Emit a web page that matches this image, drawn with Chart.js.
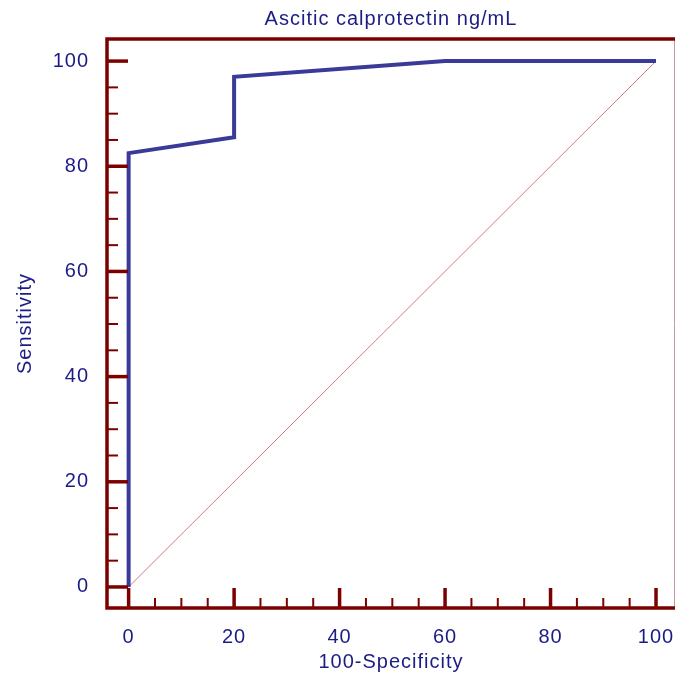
<!DOCTYPE html>
<html>
<head>
<meta charset="utf-8">
<script src="https://cdn.jsdelivr.net/npm/chart.js@4.4.1/dist/chart.umd.min.js"></script>
<style>
  html, body { margin: 0; padding: 0; background: #fff; }
  #wrap { width: 676px; height: 677px; }
</style>
</head>
<body>
<div id="wrap"><canvas id="rocChart" width="676" height="677"></canvas></div>
<script>
// ROC curve points (100-Specificity, Sensitivity)
const fpr = [0, 0, 20, 20, 60, 100];
const tpr = [0, 82.5, 85.5, 97, 100, 100];
// reference diagonal
const refX = [0, 100];
const refY = [0, 100];
const tickValues = [0, 20, 40, 60, 80, 100];

const maroon = '#7d0000';
const navy = '#1c1c86';

// frame + inward tick marks, drawn from the scales
const framePlugin = {
    id: 'frame',
    afterDatasetsDraw(chart) {
        const ctx = chart.ctx;
        const a = chart.chartArea;
        const xs = chart.scales.x, ys = chart.scales.y;
        ctx.save();
        ctx.strokeStyle = maroon;
        ctx.lineCap = 'butt';
        for (let v = 0; v <= 100; v += 5) {
            const major = v % 20 === 0;
            ctx.lineWidth = major ? 3.5 : 2;
            const py = ys.getPixelForValue(v);
            ctx.beginPath();
            ctx.moveTo(a.left, py);
            ctx.lineTo(a.left + (major ? 21 : 11), py);
            ctx.stroke();
            const px = xs.getPixelForValue(v);
            ctx.beginPath();
            ctx.moveTo(px, a.bottom);
            ctx.lineTo(px, a.bottom - (major ? 20 : 10));
            ctx.stroke();
        }
        // right edge, thin
        ctx.strokeStyle = '#c49a9a';
        ctx.lineWidth = 1;
        ctx.beginPath();
        ctx.moveTo(a.right - 0.5, a.top);
        ctx.lineTo(a.right - 0.5, a.bottom);
        ctx.stroke();
        // left, top, bottom thick
        ctx.strokeStyle = maroon;
        ctx.lineWidth = 3.5;
        ctx.beginPath();
        ctx.moveTo(a.right, a.top);
        ctx.lineTo(a.left, a.top);
        ctx.lineTo(a.left, a.bottom);
        ctx.lineTo(a.right, a.bottom);
        ctx.stroke();
        ctx.restore();
    }
};

const spacingPlugin = {
    id: 'spacing',
    beforeDraw(chart) { chart.ctx.letterSpacing = '1px'; }
};

const ctx = document.getElementById('rocChart').getContext('2d');
const rocChart = new Chart(ctx, {
    type: 'line',
    data: {
        datasets: [{
            label: 'ROC',
            data: fpr.map((x, i) => ({ x: x, y: tpr[i] })),
            borderColor: '#3a3a98',
            borderWidth: 4,
            borderJoinStyle: 'miter',
            pointRadius: 0,
            fill: false,
            tension: 0
        }, {
            label: 'Reference',
            data: refX.map((x, i) => ({ x: x, y: refY[i] })),
            borderColor: 'rgba(190, 80, 80, 0.75)',
            borderWidth: 1,
            pointRadius: 0,
            fill: false
        }]
    },
    options: {
        responsive: false,
        animation: false,
        layout: { padding: { left: 0, right: 1, top: 0, bottom: 0 } },
        plugins: {
            legend: { display: false },
            tooltip: { enabled: false },
            title: {
                display: true,
                text: 'Ascitic calprotectin ng/mL',
                color: navy,
                fullSize: false,
                font: { family: 'Liberation Sans', size: 20, weight: 'normal' },
                padding: { top: 7, bottom: 8 }
            }
        },
        scales: {
            x: {
                type: 'linear',
                min: -4.1,
                max: 103.6,
                grid: { display: false },
                border: { display: false },
                afterFit(scale) {
                    scale.height = 69;
                    scale.paddingLeft = 0;
                    scale.paddingRight = 0;
                },
                ticks: {
                    stepSize: 20,
                    includeBounds: false,
                    padding: 9,
                    color: navy,
                    font: { family: 'Liberation Sans', size: 20 },
                    callback: v => tickValues.includes(v) ? v : ''
                },
                title: {
                    display: true,
                    text: '100-Specificity',
                    color: navy,
                    font: { family: 'Liberation Sans', size: 20 },
                    padding: { top: 0, bottom: 3 }
                }
            },
            y: {
                type: 'linear',
                min: -4.0,
                max: 104.2,
                grid: { display: false },
                border: { display: false },
                afterFit(scale) {
                    scale.width = 107;
                    scale.paddingTop = 0;
                    scale.paddingBottom = 0;
                },
                ticks: {
                    stepSize: 20,
                    includeBounds: false,
                    padding: 10,
                    color: navy,
                    font: { family: 'Liberation Sans', size: 20 },
                    callback: v => tickValues.includes(v) ? v : ''
                },
                title: {
                    display: true,
                    text: 'Sensitivity',
                    color: navy,
                    font: { family: 'Liberation Sans', size: 20 },
                    padding: { top: 13, bottom: 0 }
                }
            }
        }
    },
    plugins: [spacingPlugin, framePlugin]
});
</script>
</body>
</html>
